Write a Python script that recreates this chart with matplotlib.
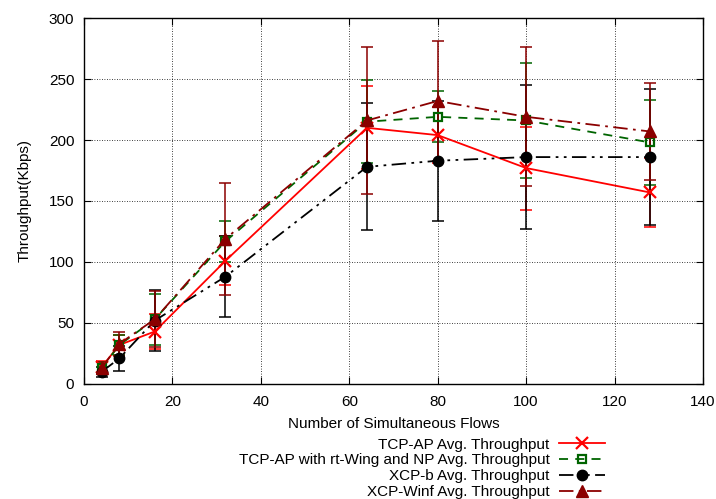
"""Throughput vs number of simultaneous flows, gnuplot-style."""

import matplotlib

matplotlib.use("Agg")

from matplotlib import pyplot as plt

flows = [4, 8, 16, 32, 64, 80, 100, 128]

tcp_ap = [14, 32, 43, 101, 210, 204, 177, 157]
tcp_ap_err = [5, 8, 14, 20, 34, 23, 34, 28]

tcp_ap_rt = [13, 32, 53, 117, 215, 219, 216, 198]
tcp_ap_rt_err = [5, 8, 21, 17, 34, 21, 47, 35]

xcp_b = [10, 21, 52, 88, 178, 183, 186, 186]
xcp_b_err = [4, 10, 25, 33, 52, 49, 59, 56]

xcp_winf = [13, 33, 53, 119, 216, 232, 219, 207]
xcp_winf_err = [5, 10, 23, 46, 60, 49, 57, 40]

labels = [
    "TCP-AP Avg. Throughput",
    "TCP-AP with rt-Wing and NP Avg. Throughput",
    "XCP-b Avg. Throughput",
    "XCP-Winf Avg. Throughput",
]

plt.rcParams["font.family"] = ["Liberation Sans", "DejaVu Sans"]
plt.rcParams["font.size"] = 11

fig = plt.figure(figsize=(7.16, 4.99), dpi=100)
ax = fig.add_axes([0.1173, 0.2305, 0.8645, 0.7334])

series = [
    (tcp_ap, tcp_ap_err, "#ff0000", "-", dict(marker="x", markersize=9, markeredgewidth=1.6)),
    (tcp_ap_rt, tcp_ap_rt_err, "#006400", (0, (5, 4)),
     dict(marker="s", markersize=6, markerfacecolor="none", markeredgewidth=1.6)),
    (xcp_b, xcp_b_err, "#000000", (0, (8, 3, 1.5, 3, 1.5, 3)), dict(marker="o", markersize=7.5)),
    (xcp_winf, xcp_winf_err, "#8b0000", (0, (8, 3, 1.5, 3)), dict(marker="^", markersize=8.5)),
]

handles = []
for (vals, errs, color, ls, mk), label in zip(series, labels):
    ax.errorbar(flows, vals, yerr=errs, fmt="none", ecolor=color, elinewidth=1.1,
                capsize=4, capthick=1.1, zorder=3)
    (line,) = ax.plot(flows, vals, color=color, linestyle=ls, linewidth=1.3,
                      label=label, zorder=4, **mk)
    handles.append(line)

ax.set_xlim(0, 140)
ax.set_ylim(0, 300)
ax.set_xticks(range(0, 141, 20))
ax.set_yticks(range(0, 301, 50))
ax.tick_params(direction="in", top=True, right=True, length=5, labelsize=11)
ax.tick_params(axis="x", pad=8)
ax.tick_params(axis="y", pad=7)
ax.grid(True, color="black", linestyle=(0, (1, 2)), linewidth=0.6)
ax.set_axisbelow(True)
for spine in ax.spines.values():
    spine.set_linewidth(1.0)

ax.set_xlabel("Number of Simultaneous Flows", labelpad=6)
ax.set_ylabel("Throughput(Kbps)", labelpad=12)

fig.legend(handles=handles, labels=labels, loc="upper right", bbox_to_anchor=(0.8444, 0.123),
           markerfirst=False, frameon=False, handlelength=3.0, handletextpad=0.6,
           labelspacing=0.12, borderpad=0, borderaxespad=0, fontsize=11)

fig.savefig("out.png", dpi=100)
